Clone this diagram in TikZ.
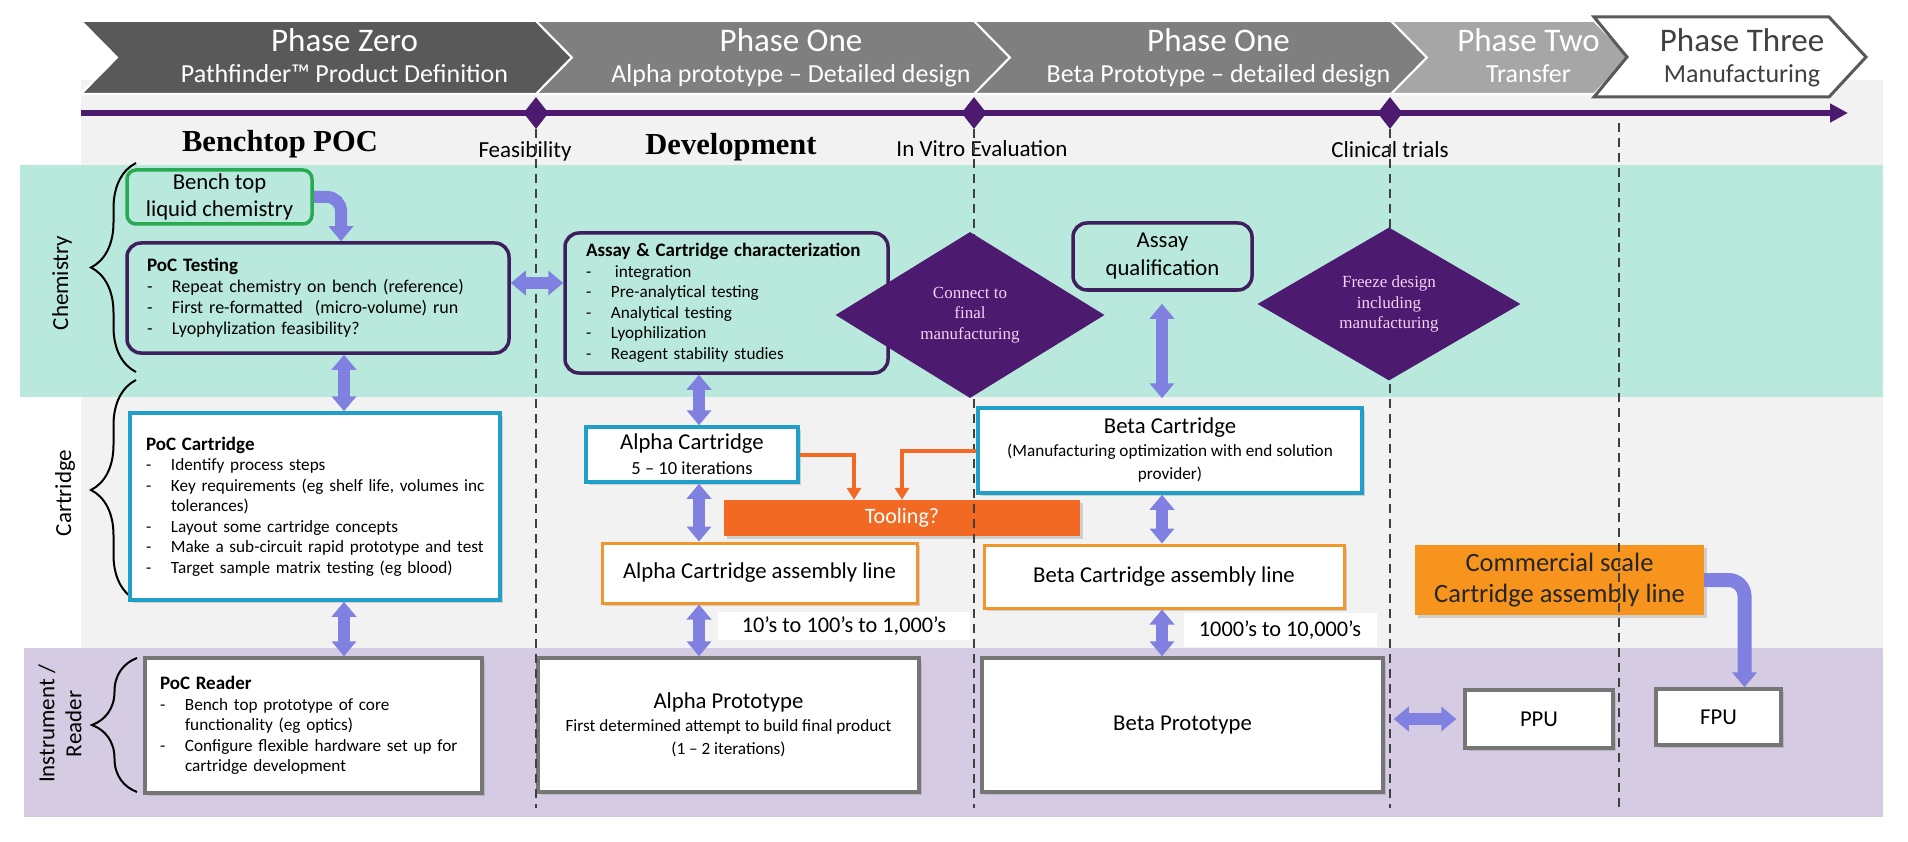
\documentclass[tikz,border=0pt]{standalone}
\usepackage{fontspec}
\setmainfont{Carlito}
\newfontfamily\timesfont{Liberation Serif}
\usetikzlibrary{arrows.meta, shapes.geometric, decorations.pathreplacing, shadows, positioning}

\definecolor{bandteal}{RGB}{185,232,220}
\definecolor{bandlav}{RGB}{213,203,226}
\definecolor{bggray}{RGB}{242,242,242}
\definecolor{ph0}{RGB}{89,89,89}
\definecolor{ph1}{RGB}{127,127,127}
\definecolor{ph2}{RGB}{166,166,166}
\definecolor{mpurple}{RGB}{76,26,110}
\definecolor{boxpurple}{RGB}{62,30,92}
\definecolor{arrlav}{RGB}{128,128,224}
\definecolor{cartcyan}{RGB}{32,160,200}
\definecolor{asmorange}{RGB}{240,150,42}
\definecolor{toolorange}{RGB}{242,105,35}
\definecolor{commorange}{RGB}{247,148,30}
\definecolor{boxgray}{RGB}{118,118,118}
\definecolor{benchgreen}{RGB}{40,170,80}
\definecolor{dtext}{RGB}{245,210,245}

\newcommand{\fz}[2]{\fontsize{#1}{#2}\selectfont}
\newcommand{\boxtitle}[1]{{\fz{19}{20.5}\bfseries #1}}
\newcommand{\itm}[1]{\mbox{\makebox[25pt][l]{-}#1}}
\newcommand{\cont}[1]{\mbox{\hspace*{25pt}#1}}

\tikzset{
  chev/.style={draw=white, line width=2pt},
  chevtitle/.style={text=white, font=\fz{33}{36}, anchor=base},
  chevsub/.style={text=white, font=\fz{26}{30}, anchor=base},
  milestone/.style={diamond, fill=mpurple, minimum width=25pt, minimum height=32pt, inner sep=0pt},
  mslabel/.style={font=\fz{23}{27}, anchor=base},
  phaselabel/.style={font=\timesfont\bfseries\fz{30.5}{34}, anchor=base},
  rowlabel/.style={font=\fz{23}{27}, rotate=90, align=center},
  rowbrace/.style={decorate, decoration={brace, amplitude=45pt}, line width=2pt},
  dashline/.style={draw=black!75, line width=2pt, dash pattern=on 9pt off 6pt},
  purplebox/.style={draw=boxpurple, line width=3.5pt, rounded corners=14pt},
  listbox/.style={align=left, inner ysep=0pt, font=\fz{17.2}{20.5}},
  boxshadow/.style={drop shadow={shadow xshift=3pt, shadow yshift=-3pt, opacity=0.3}},
  cartbox/.style={draw=cartcyan, line width=3.5pt, fill=white, boxshadow},
  asmbox/.style={draw=asmorange, line width=3pt, fill=white, boxshadow},
  protobox/.style={draw=boxgray, line width=3.5pt, fill=white, boxshadow},
  decision/.style={diamond, fill=mpurple, text=dtext, align=center, inner sep=0pt, aspect=1.6, font=\timesfont\fz{17}{20.5}},
  rangelabel/.style={fill=white, font=\fz{22.3}{26}},
  fatline/.style={draw=arrlav, line width=12pt},
  fatboth/.style={fatline, {Triangle[length=15pt,width=24pt]}-{Triangle[length=15pt,width=24pt]}},
  fatone/.style={fatline, -{Triangle[length=15pt,width=24pt]}},
  toolarrow/.style={draw=toolorange, line width=4pt, -{Triangle[length=12pt,width=14pt]}}
}

\begin{document}
\begin{tikzpicture}[x=1pt, y=-1pt]
  \useasboundingbox (0,0) rectangle (1908,842);
  \fill[white] (0,0) rectangle (1908,842);
  \fill[bggray] (81,80) rectangle (1883,817);
  \fill[bandteal] (20,165) rectangle (1883,397);
  \fill[bandlav] (24,648) rectangle (1883,817);

  % phase chevrons
  \foreach \xa/\xb/\col/\ttl/\sub [count=\i] in {81/536/ph0/Phase Zero/Pathfinder™ Product Definition,
      536/974/ph1/Phase One/Alpha prototype – Detailed design,
      974/1391/ph1/Phase One/Beta Prototype – detailed design,
      1391/1594/ph2/Phase Two/Transfer}{
    \draw[chev, fill=\col] (\xa,21) -- (\xb,21) -- (\xb+36,57.5) -- (\xb,94) -- (\xa,94) -- (\xa+36,57.5) -- cycle;
    \pgfmathsetmacro\xm{(\xa+\xb)/2+36}
    \node[chevtitle] (ph\i-t) at (\xm,52) {\ttl};
    \node[chevsub] (ph\i-s) at (\xm,83) {\sub};
  }
  \draw[draw=ph0, line width=3pt, fill=white] (1594,17) -- (1829,17) -- (1866,57) -- (1829,97) -- (1594,97) -- (1627,57) -- cycle;
  \node[chevtitle, text=black!75] (ph5-t) at (1742,52) {Phase Three};
  \node[chevsub, text=black!75] (ph5-s) at (1742,83) {Manufacturing};

  % timeline
  \coordinate (tl-start) at (81,113);
  \coordinate (tl-end) at (1848,113);
  \draw[mpurple, line width=6pt, -{Triangle[length=18pt,width=18pt]}] (tl-start) -- (tl-end);
  \node[milestone] (feas) at (536,113) {};
  \node[milestone] (vitro) at (974,113) {};
  \node[milestone] (clin) at (1390,113) {};
  \coordinate (xfer) at (1619,123);
  \coordinate (bottom) at (0,808);

  \node[mslabel] (feas-l) at (525,158) {Feasibility};
  \node[mslabel] (vitro-l) at (982,157) {In Vitro Evaluation};
  \node[mslabel] (clin-l) at (1390,158) {Clinical trials};
  \node[phaselabel] (poc-l) at (280,152) {Benchtop POC};
  \node[phaselabel] (dev-l) at (731,155) {Development};

  % rows
  \node[rowlabel] (chem-l) at (62,283) {Chemistry};
  \node[rowlabel] (cart-l) at (65,493) {Cartridge};
  \node[rowlabel] (inst-l) at (60,724) {Instrument /\\Reader};
  \draw[rowbrace] (136,372) -- (136,163);
  \draw[rowbrace] (136,600) -- (136,380);
  \draw[rowbrace] (137,792) -- (137,658);

  % benchtop column
  \node[draw=benchgreen, line width=3.5pt, rounded corners=9pt, minimum width=185pt, minimum height=54pt,
        align=center, font=\fz{22.7}{27}] (bench) at (219.5,197) {Bench top\\liquid chemistry};
  \node[purplebox, listbox, font=\fz{18}{21}, minimum width=382pt, minimum height=110pt, inner xsep=20pt, text width=342pt] (test) at (318,298)
    {\boxtitle{PoC Testing}\\ \itm{Repeat chemistry on bench (reference)}\\ \itm{First re-formatted\ \ (micro-volume) run}\\ \itm{Lyophylization feasibility?}};
  \node[cartbox, listbox, minimum width=370pt, minimum height=187pt, inner xsep=16pt, text width=338pt] (pocCart) at (315,506.5)
    {\boxtitle{PoC Cartridge}\\ \itm{Identify process steps}\\ \itm{Key requirements (eg shelf life, volumes inc}\\ \cont{tolerances)}\\
     \itm{Layout some cartridge concepts}\\ \itm{Make a sub-circuit rapid prototype and test}\\ \itm{Target sample matrix testing (eg blood)}};
  \node[protobox, listbox, minimum width=337pt, minimum height=135pt, inner xsep=15pt, text width=307pt] (reader) at (313.5,725.5)
    {\boxtitle{PoC Reader}\\ \itm{Bench top prototype of core}\\ \cont{functionality (eg optics)}\\ \itm{Configure flexible hardware set up for}\\ \cont{cartridge development}};

  % alpha column
  \node[purplebox, listbox, minimum width=323pt, minimum height=140pt, inner xsep=21pt, text width=281pt] (assay) at (726.5,303)
    {\boxtitle{Assay \& Cartridge characterization}\\ \itm{\hspace{4pt}integration}\\ \itm{Pre-analytical testing}\\ \itm{Analytical testing}\\ \itm{Lyophilization}\\ \itm{Reagent stability studies}};
  \node[cartbox, minimum width=212pt, minimum height=55pt, align=center, font=\fz{22.7}{25}] (acart) at (692,454.5)
    {Alpha Cartridge\\ \fz{18.5}{25}5 – 10 iterations};
  \node[fill=toolorange, text=white, minimum width=356pt, minimum height=36pt, font=\fz{22}{26}, boxshadow] (tool) at (902,518) {Tooling?};
  \node[asmbox, minimum width=315pt, minimum height=60pt, font=\fz{22.7}{26}] (asmA) at (759.5,573) {Alpha Cartridge assembly line};
  \node[rangelabel, minimum width=252pt, minimum height=28pt] (rangeA) at (844,626) {10’s to 100’s to 1,000’s};
  \node[protobox, minimum width=381pt, minimum height=134pt, align=center, font=\fz{22.7}{23}] (aproto) at (728.5,725)
    {Alpha Prototype\\ \fz{17.2}{20.5}First determined attempt to build final product\\ \fz{17.2}{20.5}(1 – 2 iterations)};

  % beta column
  \node[purplebox, minimum width=179pt, minimum height=67pt, align=center, font=\fz{22.7}{28}] (aqual) at (1162.5,256.5) {Assay\\qualification};
  \node[cartbox, minimum width=384pt, minimum height=85pt, align=center, font=\fz{22.7}{23}] (bcart) at (1170,450.5)
    {Beta Cartridge\\ \fz{17.2}{20.5}(Manufacturing optimization with end solution\\ \fz{17.2}{20.5}provider)};
  \node[asmbox, minimum width=360pt, minimum height=63pt, font=\fz{22.7}{26}] (asmB) at (1164,576.5) {Beta Cartridge assembly line};
  \node[rangelabel, minimum width=193pt, minimum height=34pt] (rangeB) at (1280,630) {1000’s to 10,000’s};
  \node[protobox, minimum width=401pt, minimum height=134pt, font=\fz{22.7}{26}] (bproto) at (1182.5,725) {Beta Prototype};

  % transfer and manufacturing
  \node[fill=commorange, text=black!85, minimum width=289pt, minimum height=70pt, align=center, font=\fz{26.5}{31}, boxshadow] (comm) at (1559.5,580)
    {Commercial scale\\Cartridge assembly line};
  \node[protobox, minimum width=148pt, minimum height=58pt, font=\fz{22.7}{26}] (ppu) at (1539,719) {PPU};
  \node[protobox, minimum width=125pt, minimum height=56pt, font=\fz{22.7}{26}] (fpu) at (1718.5,717) {FPU};

  % gates
  \foreach \m in {feas,vitro,clin}
    \draw[dashline] (\m.south) -- (\m.south |- bottom);
  \draw[dashline] (xfer) -- (xfer |- bottom);
  \node[decision, minimum width=269pt, minimum height=166pt] (connect) at (970,315) {Connect to\\final\\manufacturing};
  \node[decision, minimum width=263pt, minimum height=153pt] (freeze) at (1389,304) {Freeze design\\including\\manufacturing};

  % links
  \coordinate (colA) at (344,0);
  \coordinate (colB) at (699,0);
  \coordinate (colC) at (1162,0);
  \coordinate (rowT) at (0,283);
  \draw[fatone, rounded corners=14pt] (bench.east) -| ([xshift=23pt]test.north);
  \draw[fatboth] (colA |- test.south) -- (colA |- pocCart.north);
  \draw[fatboth] (colA |- pocCart.south) -- (colA |- reader.north);
  \draw[fatboth] (test.east |- rowT) -- (assay.west |- rowT);
  \draw[fatboth] (colB |- assay.south) -- (colB |- acart.north);
  \draw[fatboth] (colB |- acart.south) -- (colB |- asmA.north);
  \draw[fatboth] (colB |- asmA.south) -- (colB |- aproto.north);
  \draw[fatboth, shorten <=12pt, shorten >=8pt] (colC |- aqual.south) -- (colC |- bcart.north);
  \draw[fatboth] (colC |- bcart.south) -- (colC |- asmB.north);
  \draw[fatboth] (colC |- asmB.south) -- (colC |- bproto.north);
  \draw[fatboth, shorten <=9pt, shorten >=7pt] (bproto.east |- ppu.west) -- (ppu.west);
  \draw[fatone, line width=14pt, rounded corners=16pt] (comm.east) -| ([xshift=26pt]fpu.north);
  \draw[toolarrow] (acart.east) -| ([xshift=-48pt]tool.north);
  \draw[toolarrow] (bcart.west) -| (tool.north);
\end{tikzpicture}
\end{document}
